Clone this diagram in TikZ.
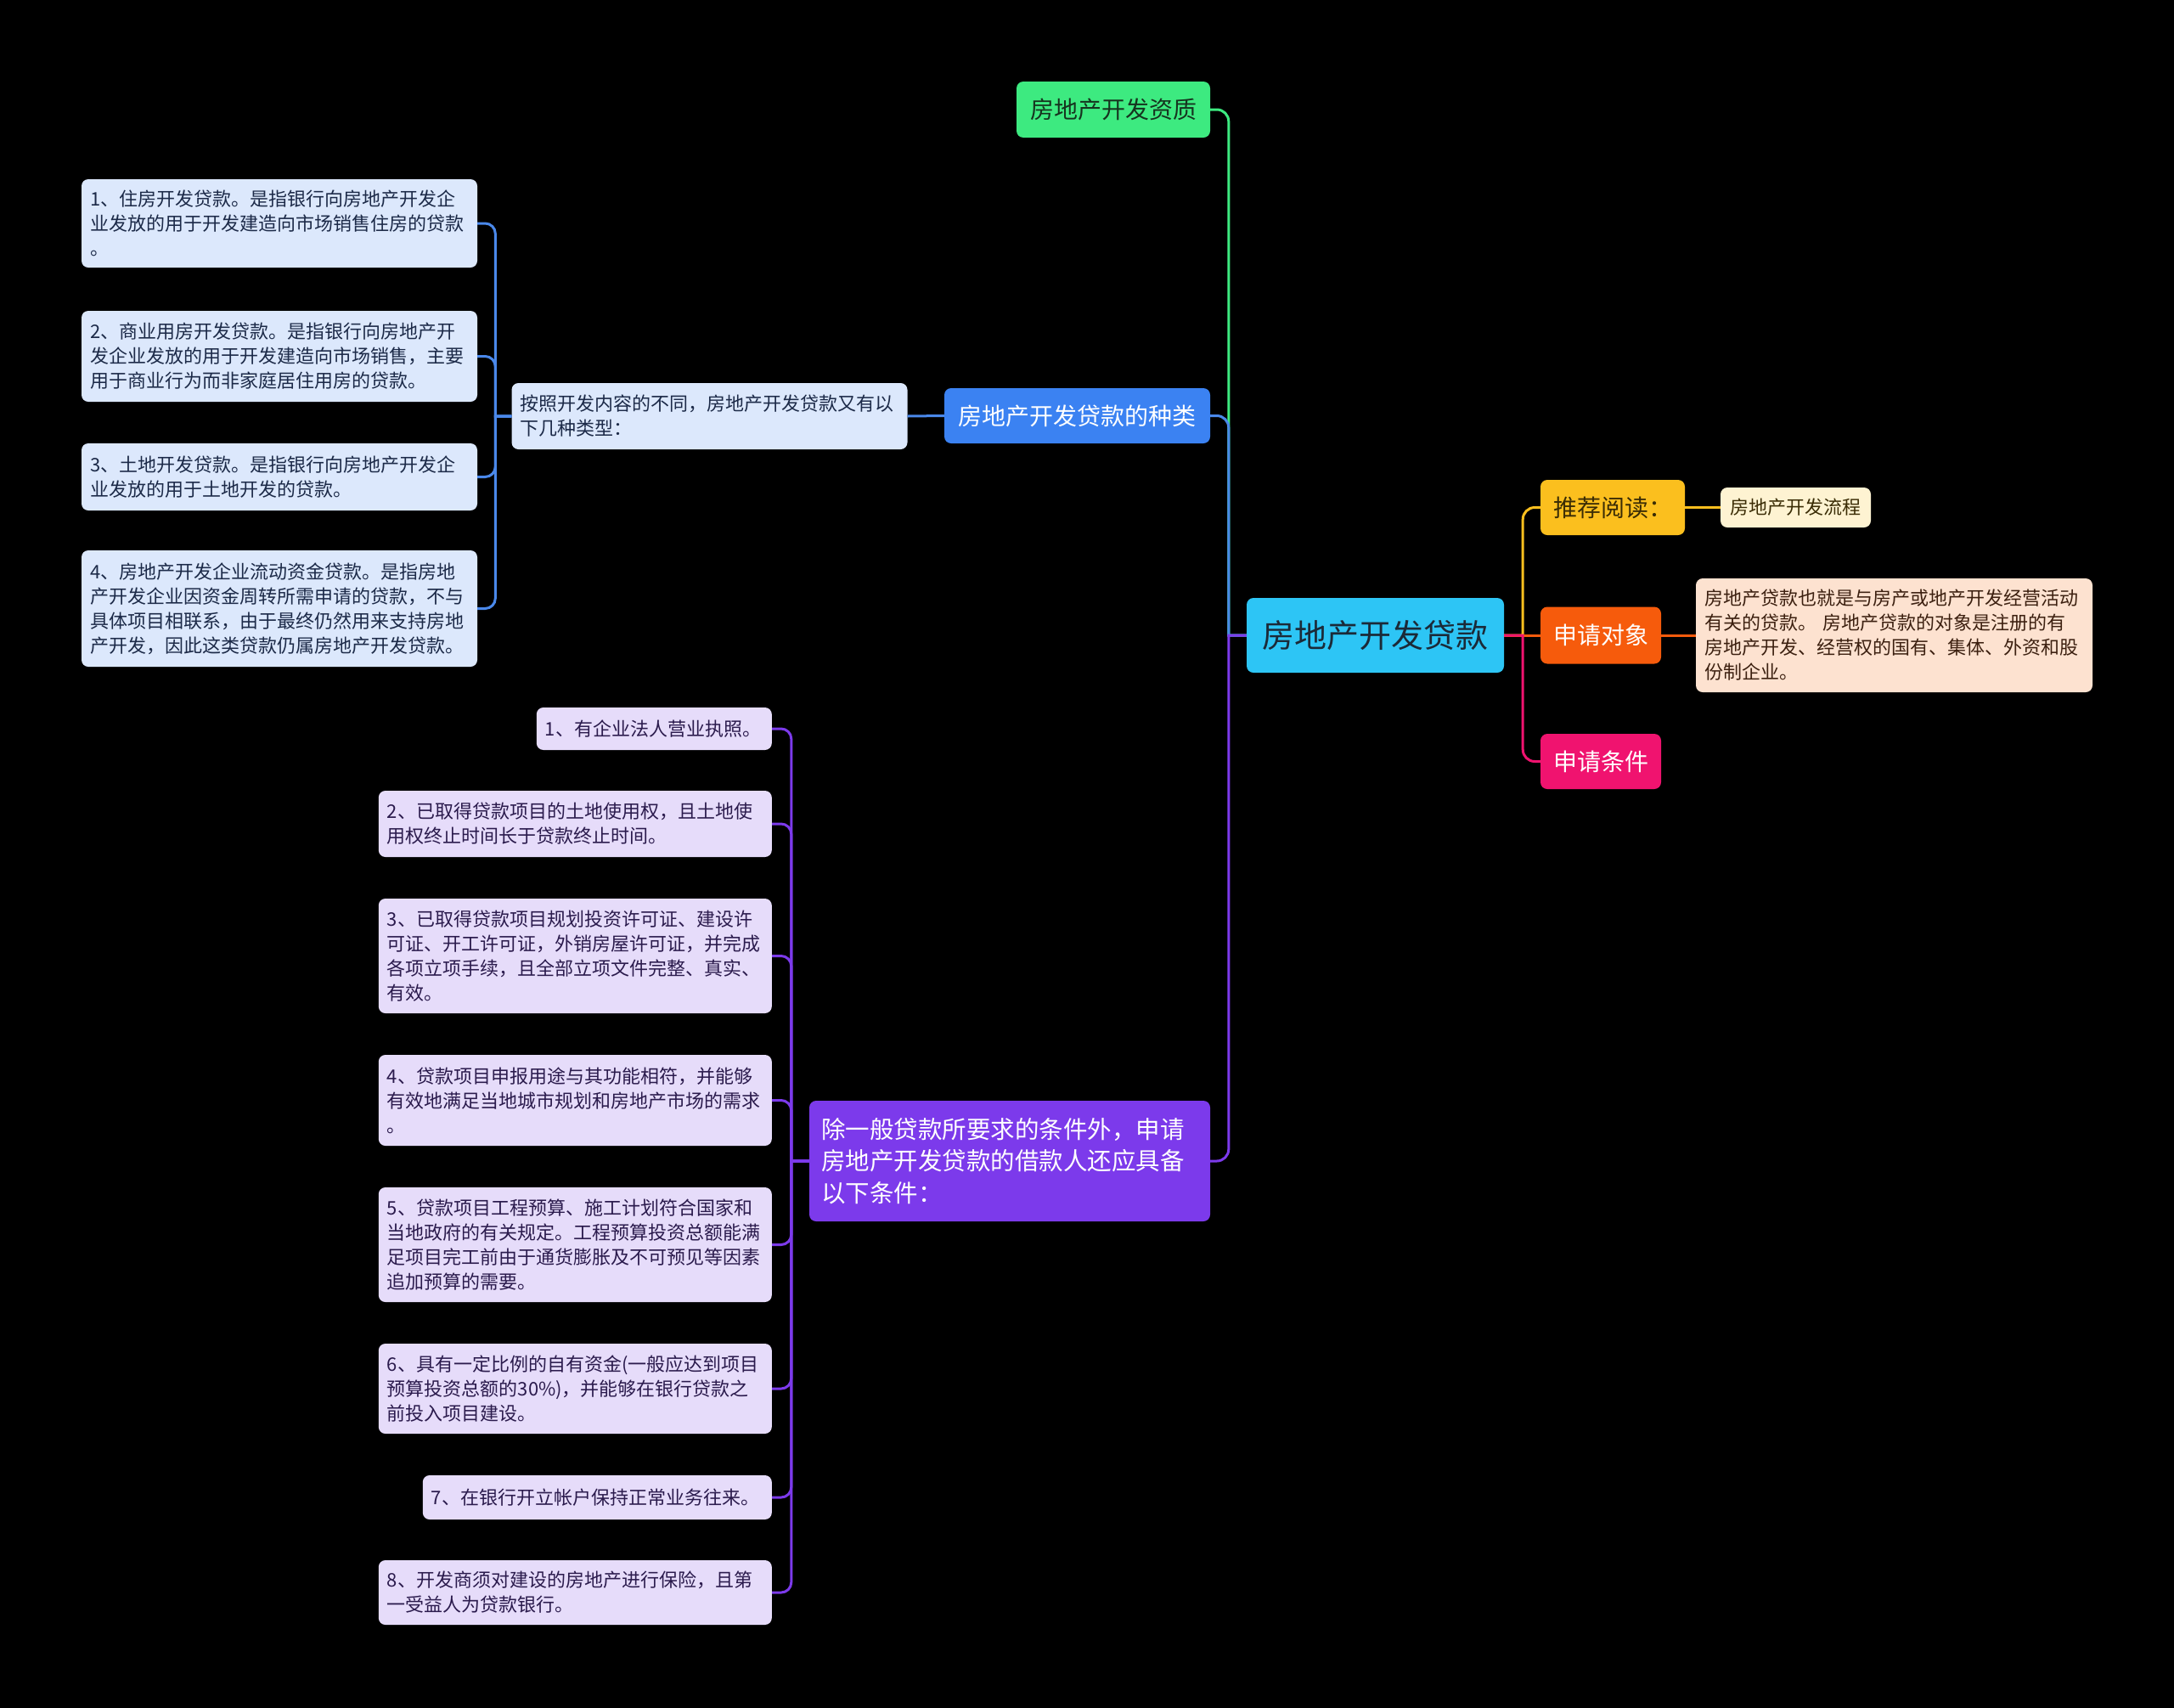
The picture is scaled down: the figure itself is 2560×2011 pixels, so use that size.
\documentclass[tikz,border=0pt]{standalone}
\usepackage{fontspec}
\setmainfont{Noto Sans CJK SC}
\usepackage{tikz}
\usetikzlibrary{positioning,calc}

\definecolor{rootfill}{HTML}{2DC5F5}
\definecolor{rootink}{HTML}{1B2A38}
\definecolor{greenfill}{HTML}{3DEA80}
\definecolor{greenink}{HTML}{16331F}
\definecolor{bluefill}{HTML}{3B82F2}
\definecolor{blueline}{HTML}{4A88EA}
\definecolor{blueleaf}{HTML}{DCE8FC}
\definecolor{blueink}{HTML}{1C2A48}
\definecolor{purplefill}{HTML}{7C3AEB}
\definecolor{purpleleaf}{HTML}{E6DCFA}
\definecolor{purpleink}{HTML}{2B1B4D}
\definecolor{yellowfill}{HTML}{FBBF1E}
\definecolor{yellowleaf}{HTML}{FEF3D2}
\definecolor{yellowink}{HTML}{3A2C05}
\definecolor{orangefill}{HTML}{F65B0C}
\definecolor{orangeleaf}{HTML}{FDE2D0}
\definecolor{orangeink}{HTML}{3C2010}
\definecolor{pinkfill}{HTML}{F0136F}

\begin{document}
\begin{tikzpicture}[
    x=1pt, y=-1pt,
    box/.style={rounded corners=8pt, inner xsep=10pt, inner ysep=0pt, align=left},
    rootbox/.style={box, fill=rootfill, text=rootink, font=\fontsize{38}{46}\selectfont, minimum width=303pt, minimum height=88pt, align=center},
    branch/.style={box, font=\fontsize{28}{37}\selectfont, minimum height=65pt, align=center},
    leaf/.style={box, font=\fontsize{22}{29}\selectfont},
    bleaf/.style={leaf, fill=blueleaf, text=blueink, text width=446pt},
    pleaf/.style={leaf, fill=purpleleaf, text=purpleink, anchor=east},
    conn/.style={line width=3pt}
]
\fill[black] (0,0) rectangle (2560,2011);
\useasboundingbox (0,0) rectangle (2560,2011);

% centre
\node[rootbox] (root) at (1619.5,748) {房地产开发贷款};

% left side
\node[branch, fill=greenfill, text=greenink, minimum width=228pt, minimum height=66pt] (qual) at (1311,129) {房地产开发资质};
\node[branch, fill=bluefill, text=white, minimum width=313pt] (kinds) at (1268.5,489.5) {房地产开发贷款的种类};
\node[bleaf, minimum height=78pt] (kintro) at (835.5,490) {按照开发内容的不同，房地产开发贷款又有以\\下几种类型：};
\node[bleaf, minimum height=104pt] (k1) at (329,263) {1、住房开发贷款。是指银行向房地产开发企\\业发放的用于开发建造向市场销售住房的贷款\\。};
\node[bleaf, minimum height=107pt] (k2) at (329,419.5) {2、商业用房开发贷款。是指银行向房地产开\\发企业发放的用于开发建造向市场销售，主要\\用于商业行为而非家庭居住用房的贷款。};
\node[bleaf, minimum height=79pt] (k3) at (329,561.5) {3、土地开发贷款。是指银行向房地产开发企\\业发放的用于土地开发的贷款。};
\node[bleaf, minimum height=137pt] (k4) at (329,716.5) {4、房地产开发企业流动资金贷款。是指房地\\产开发企业因资金周转所需申请的贷款，不与\\具体项目相联系，由于最终仍然用来支持房地\\产开发，因此这类贷款仍属房地产开发贷款。};

\node[box, fill=purplefill, text=white, font=\fontsize{28.5}{37.5}\selectfont, text width=444pt, inner xsep=14pt, minimum height=142pt] (cond) at (1189,1367) {除一般贷款所要求的条件外，申请\\房地产开发贷款的借款人还应具备\\以下条件：};
\node[pleaf, text width=257pt, minimum height=50pt] (c1) at (909,858) {1、有企业法人营业执照。};
\node[pleaf, text width=443pt, minimum height=78pt] (c2) at (909,970) {2、已取得贷款项目的土地使用权，且土地使\\用权终止时间长于贷款终止时间。};
\node[pleaf, text width=443pt, minimum height=135pt] (c3) at (909,1125.5) {3、已取得贷款项目规划投资许可证、建设许\\可证、开工许可证，外销房屋许可证，并完成\\各项立项手续，且全部立项文件完整、真实、\\有效。};
\node[pleaf, text width=443pt, minimum height=107pt] (c4) at (909,1295.5) {4、贷款项目申报用途与其功能相符，并能够\\有效地满足当地城市规划和房地产市场的需求\\。};
\node[pleaf, text width=443pt, minimum height=135pt] (c5) at (909,1465.5) {5、贷款项目工程预算、施工计划符合国家和\\当地政府的有关规定。工程预算投资总额能满\\足项目完工前由于通货膨胀及不可预见等因素\\追加预算的需要。};
\node[pleaf, text width=443pt, minimum height=106pt] (c6) at (909,1635) {6、具有一定比例的自有资金(一般应达到项目\\预算投资总额的30\%)，并能够在银行贷款之\\前投入项目建设。};
\node[pleaf, text width=391pt, minimum height=52pt] (c7) at (909,1763) {7、在银行开立帐户保持正常业务往来。};
\node[pleaf, text width=443pt, minimum height=76pt] (c8) at (909,1875) {8、开发商须对建设的房地产进行保险，且第\\一受益人为贷款银行。};

% right side
\node[branch, fill=yellowfill, text=yellowink, minimum width=170pt] (read) at (1899,597.5) {推荐阅读：};
\node[leaf, fill=yellowleaf, text=yellowink, minimum width=177pt, minimum height=47pt, align=center] (flow) at (2114.5,597.5) {房地产开发流程};
\node[branch, fill=orangefill, text=white, minimum width=142pt, minimum height=67pt] (target) at (1885,748) {申请对象};
\node[leaf, fill=orangeleaf, text=orangeink, text width=447pt, minimum height=134pt] (tdesc) at (2230.5,748) {房地产贷款也就是与房产或地产开发经营活动\\有关的贷款。 房地产贷款的对象是注册的有\\房地产开发、经营权的国有、集体、外资和股\\份制企业。};
\node[branch, fill=pinkfill, text=white, minimum width=142pt] (apply) at (1885,896.5) {申请条件};

% connectors
\draw[conn, greenfill] (root.west) -- ++(-21pt,0) [rounded corners=14pt] |- (qual.east);
\draw[conn, blueline] (root.west) -- ++(-21pt,0) [rounded corners=14pt] |- (kinds.east);
\draw[conn, purplefill] (root.west) -- ++(-21pt,0) [rounded corners=14pt] |- (cond.east);
\draw[conn, blueline] (kinds.west) -- (kintro.east);
\foreach \n in {k1,k2,k3,k4}
  \draw[conn, blueline] (kintro.west) -- ++(-19pt,0) [rounded corners=12pt] |- (\n.east);
\foreach \n in {c1,c2,c3,c4,c5,c6,c7,c8}
  \draw[conn, purplefill] (cond.west) -- ++(-21pt,0) [rounded corners=12pt] |- (\n.east);
\draw[conn, yellowfill] (root.east) -- ++(22pt,0) [rounded corners=14pt] |- (read.west);
\draw[conn, orangefill] (root.east) -- (target.west);
\draw[conn, pinkfill] (root.east) -- ++(22pt,0) [rounded corners=14pt] |- (apply.west);
\draw[conn, yellowfill] (read.east) -- (flow.west);
\draw[conn, orangefill] (target.east) -- (tdesc.west);
\end{tikzpicture}
\end{document}
